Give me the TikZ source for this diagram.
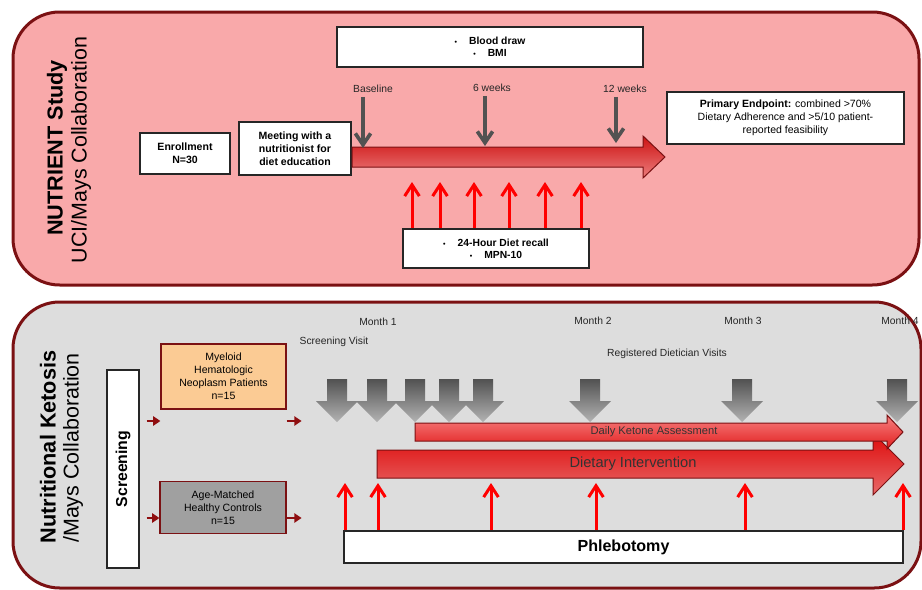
\documentclass[tikz,border=0pt]{standalone}
\usepackage{fontspec}
\setmainfont{Liberation Sans}
\usetikzlibrary{arrows.meta}

\definecolor{pinkpanel}{RGB}{249,169,170}
\definecolor{graypanel}{RGB}{221,221,221}
\definecolor{rim}{RGB}{123,17,19}
\definecolor{weekgray}{RGB}{82,82,82}
\definecolor{peach}{RGB}{251,203,148}
\definecolor{ctrlgray}{RGB}{160,160,160}

\tikzset{
  panel/.style={draw=rim,line width=0.9mm,rounded corners=14mm},
  box/.style={draw=black!85,fill=white,line width=0.35mm,inner sep=0pt,align=center,
    font=\fontsize{9}{11}\selectfont},
  bbox/.style={box,font=\fontsize{9}{11}\selectfont\bfseries},
  lbl/.style={text=black!85,font=\fontsize{8.8}{10}\selectfont},
  title/.style={rotate=90,font=\fontsize{18.3}{20}\selectfont},
  weekarrow/.style={draw=weekgray,line width=1.1mm,-{Straight Barb[length=3.4mm,width=4.6mm]}},
  redarrow/.style={draw=red,line width=0.9mm,-{Straight Barb[length=3.4mm,width=4.4mm]}},
  feedarrow/.style={draw=rim!85!red,line width=0.55mm,-{Triangle[length=2.2mm,width=2.8mm]}},
  visit/.style={top color=black!68,bottom color=black!30},
  barrow/.style={draw=rim,line width=0.3mm}
}

\begin{document}
\begin{tikzpicture}[x=0.3mm,y=-0.3mm]
\useasboundingbox (0,0) rectangle (922,590);

\draw[panel,fill=pinkpanel] (13,12) rectangle (919,285);
\draw[panel,fill=graypanel] (13,302) rectangle (921,588);

\node[title,font=\fontsize{18.5}{20}\selectfont\bfseries] (nutrient) at (57,148) {NUTRIENT Study};
\node[title] (uci) at (81,150) {UCI/Mays Collaboration};
\node[title,font=\fontsize{18.5}{20}\selectfont\bfseries] (ketosis) at (48,447) {Nutritional Ketosis};
\node[title] (mays) at (73,448) {/Mays Collaboration};

\node[bbox,minimum width=91.8mm,minimum height=12mm,font=\fontsize{8.8}{10.2}\selectfont\bfseries] (blood) at (490,47)
  {{\fontsize{6}{6}\selectfont•}\hspace{3.6mm}Blood draw\\{\fontsize{6}{6}\selectfont•}\hspace{3.6mm}BMI};
\node[bbox,minimum width=27mm,minimum height=12.3mm] (enroll) at (185,153.5) {Enrollment\\N=30};
\node[bbox,minimum width=33.6mm,minimum height=15.9mm] (meeting) at (295,148.5)
  {Meeting with a\\nutritionist for\\diet education};
\node[bbox,minimum width=55.8mm,minimum height=11.7mm,font=\fontsize{8.8}{10.2}\selectfont\bfseries] (recall) at (496,248.5)
  {{\fontsize{6}{6}\selectfont•}\hspace{3.6mm}24-Hour Diet recall\\{\fontsize{6}{6}\selectfont•}\hspace{3.6mm}MPN-10};
\node[box,minimum width=71.1mm,minimum height=15.6mm] (endpoint) at (785.5,118)
  {\textbf{Primary Endpoint:} combined >70\%\\Dietary Adherence and >5/10 patient-\\reported feasibility};

\shadedraw[barrow,top color={rgb,255:red,205;green,18;blue,18},bottom color={rgb,255:red,236;green,125;blue,125}]
  (352,147) -- (643,147) -- (643,136) -- (665,157) -- (643,178) -- (643,167) -- (352,167) -- cycle;

\node[lbl] (base) at (373,89) {Baseline};
\node[lbl] (six) at (492,88) {6 weeks};
\node[lbl] (twelve) at (625,89) {12 weeks};
\draw[weekarrow] (base.south -| 363,0) -- (363,148);
\draw[weekarrow] (six.south -| 485,0) -- (485,146);
\draw[weekarrow] (twelve.south -| 616,0) -- (616,143);

\foreach \x in {412,440,474,509,545,581}
  \draw[redarrow] (recall.north -| \x,0) -- (\x,182);

\node[box,minimum width=9.6mm,minimum height=59.4mm] (screen) at (123,469)
  {\rotatebox{90}{\fontsize{13.5}{14}\selectfont\bfseries Screening}};
\node[box,draw=rim,fill=peach,minimum width=37.5mm,minimum height=19.5mm] (myeloid) at (223.5,376.5)
  {Myeloid\\Hematologic\\Neoplasm Patients\\n=15};
\node[box,draw=rim,fill=ctrlgray,minimum width=37.8mm,minimum height=15.6mm] (controls) at (223,507.5)
  {Age-Matched\\Healthy Controls\\n=15};

\draw[feedarrow] ([xshift=2.1mm]screen.east |- 0,421) -- (myeloid.west |- 0,421);
\draw[feedarrow] (myeloid.east |- 0,421) -- ++(15,0);
\draw[feedarrow] ([xshift=2.1mm]screen.east |- 0,518) -- (controls.west |- 0,518);
\draw[feedarrow] (controls.east |- 0,518) -- ++(15,0);

\node[lbl] (m1) at (378,322) {Month 1};
\node[lbl] (m2) at (593,321) {Month 2};
\node[lbl] (m3) at (743,321) {Month 3};
\node[lbl] (m4) at (900,321) {Month 4};
\node[lbl] (visit) at (334,342) {Screening Visit};
\node[lbl] (dietician) at (667,354) {Registered Dietician Visits};

\foreach \x in {337,377,415,449,483,590,742,897}
  \shade[visit] (\x-10,379) -- (\x+10,379) -- (\x+10,401) -- (\x+21,401) -- (\x,422)
    -- (\x-21,401) -- (\x-10,401) -- cycle;

\shadedraw[barrow,top color={rgb,255:red,222;green,10;blue,10},middle color={rgb,255:red,205;green,0;blue,0},bottom color={rgb,255:red,232;green,105;blue,105}]
  (377,450) -- (873,450) -- (873,433) -- (904,464) -- (873,495) -- (873,478) -- (377,478) -- cycle;
\shadedraw[barrow,top color={rgb,255:red,246;green,128;blue,128},bottom color={rgb,255:red,226;green,30;blue,30}]
  (415,423) -- (887,423) -- (887,415) -- (903,432) -- (887,449) -- (887,441) -- (415,441) -- cycle;
\node[text=black!80,font=\fontsize{9.5}{10}\selectfont] (ketone) at (654,432) {Daily Ketone Assessment};
\node[text=black!80,font=\fontsize{12.5}{13}\selectfont] (diet) at (633,464) {Dietary Intervention};

\node[box,minimum width=167.7mm,minimum height=9.6mm,font=\fontsize{13.7}{14}\selectfont\bfseries] (phleb) at (623.5,547) {Phlebotomy};
\foreach \x in {345,378,491,596,745,903}
  \draw[redarrow] (phleb.north -| \x,0) -- (\x,483);
\end{tikzpicture}
\end{document}
